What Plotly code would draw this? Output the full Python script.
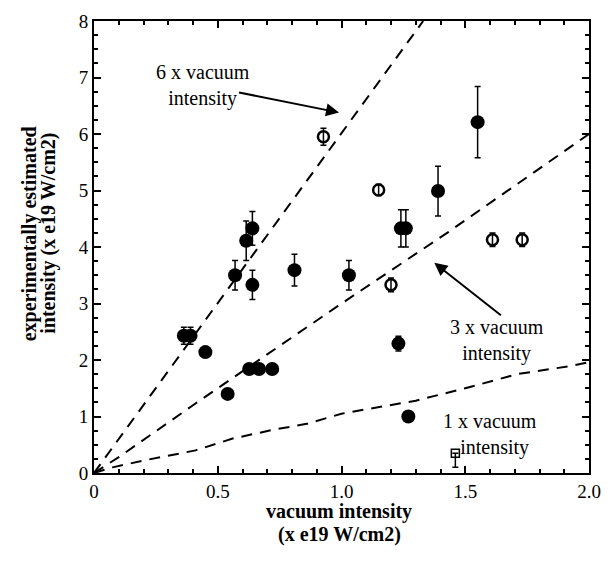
import plotly.graph_objects as go

# Filled circles (experimental data)
filled_x = [0.363, 0.39, 0.45, 0.54, 0.57, 0.615, 0.64, 0.64, 0.627, 0.667, 0.72, 0.81, 1.03, 1.23, 1.24, 1.26, 1.27, 1.39, 1.55]
filled_y = [2.43, 2.43, 2.14, 1.40, 3.50, 4.11, 4.33, 3.33, 1.84, 1.84, 1.84, 3.59, 3.50, 2.29, 4.33, 4.33, 1.00, 4.99, 6.21]
filled_err = [0.15, 0.15, 0.05, 0.0, 0.26, 0.35, 0.30, 0.26, 0.0, 0.0, 0.0, 0.28, 0.26, 0.13, 0.33, 0.33, 0.0, 0.44, 0.63]

# Open circles
open_x = [0.927, 1.15, 1.20, 1.61, 1.73]
open_y = [5.95, 5.01, 3.33, 4.13, 4.13]
open_err = [0.15, 0.10, 0.12, 0.12, 0.12]

# Open square
sq_x = [1.46]
sq_y = [0.35]
sq_err_minus = [0.25]

# Guide curves
line6_x = [0.0, 0.4, 0.8, 1.33]
line6_y = [0.0, 2.4, 4.8, 8.0]
line3_x = [0.0, 0.1, 0.41, 0.98, 1.43, 2.0]
line3_y = [0.0, 0.28, 1.23, 2.94, 4.26, 6.0]
line1_x = [0.0, 0.075, 0.21, 0.41, 0.56, 0.73, 0.86, 1.0, 1.3, 1.5, 1.71, 1.92, 2.0]
line1_y = [0.0, 0.10, 0.23, 0.40, 0.61, 0.77, 0.87, 1.05, 1.28, 1.50, 1.75, 1.89, 1.96]

x_ticks = [0, 0.5, 1.0, 1.5, 2.0]
x_tick_text = ["0", "0.5", "1.0", "1.5", "2.0"]
y_ticks = [0, 1, 2, 3, 4, 5, 6, 7, 8]

x_title_lines = ["vacuum intensity", "(x e19 W/cm2)"]
y_title_lines = ["experimentally estimated", "intensity (x e19 W/cm2)"]

serif = "Liberation Serif, Times New Roman, serif"

fig = go.Figure()
for lx, ly in [(line6_x, line6_y), (line3_x, line3_y), (line1_x, line1_y)]:
    fig.add_trace(go.Scatter(x=lx, y=ly, mode="lines",
                             line=dict(color="black", width=2, dash="11px,8px"),
                             hoverinfo="skip", showlegend=False))

fig.add_trace(go.Scatter(
    x=filled_x, y=filled_y, mode="markers",
    marker=dict(symbol="circle", size=14, color="black"),
    error_y=dict(type="data", array=filled_err, color="black", thickness=1.5, width=3),
    showlegend=False))

fig.add_trace(go.Scatter(
    x=open_x, y=open_y, mode="markers",
    marker=dict(symbol="circle-open", size=11, color="black", line=dict(width=2.5)),
    error_y=dict(type="data", array=open_err, color="black", thickness=1.5, width=3),
    showlegend=False))

fig.add_trace(go.Scatter(
    x=sq_x, y=sq_y, mode="markers",
    marker=dict(symbol="square-open", size=8, color="black", line=dict(width=1.5)),
    error_y=dict(type="data", symmetric=False, array=[0], arrayminus=sq_err_minus,
                 color="black", thickness=1.5, width=3),
    showlegend=False))

ann_font = dict(family=serif, size=20, color="black")
title_font = dict(family=serif, size=20, color="black")
annotations = [
    dict(x=0.44, y=6.85, text="6 x vacuum<br>intensity", showarrow=False, font=ann_font, align="center"),
    dict(x=1.63, y=2.35, text="3 x vacuum<br>intensity", showarrow=False, font=ann_font, align="center"),
    dict(x=1.6, y=0.68, text="1 x vacuum<br>  intensity", showarrow=False, font=ann_font, align="center"),
    dict(x=0.99, y=6.38, ax=0.58, ay=6.74, axref="x", ayref="y", text="", showarrow=True,
         arrowhead=2, arrowsize=1.3, arrowwidth=2, arrowcolor="black"),
    dict(x=1.375, y=3.72, ax=1.65, ay=2.77, axref="x", ayref="y", text="", showarrow=True,
         arrowhead=2, arrowsize=1.3, arrowwidth=2, arrowcolor="black"),
    # axis titles
    dict(xref="paper", yref="paper", x=0.495, y=-0.0853, text="<b>%s</b>" % x_title_lines[0],
         showarrow=False, font=title_font, xanchor="center", yanchor="middle"),
    dict(xref="paper", yref="paper", x=0.495, y=-0.1357, text="<b>%s</b>" % x_title_lines[1],
         showarrow=False, font=title_font, xanchor="center", yanchor="middle"),
    dict(xref="paper", yref="paper", x=-0.130, y=0.5295, text="<b>%s</b>" % y_title_lines[0],
         showarrow=False, font=title_font, textangle=-90, xanchor="center", yanchor="middle"),
    dict(xref="paper", yref="paper", x=-0.0907, y=0.5295, text="<b>%s</b>" % y_title_lines[1],
         showarrow=False, font=title_font, textangle=-90, xanchor="center", yanchor="middle"),
]

fig.update_layout(
    width=612, height=566,
    margin=dict(l=94, r=11, t=16, b=93),
    plot_bgcolor="white", paper_bgcolor="white",
    font=dict(family=serif, color="black"),
    annotations=annotations,
    xaxis=dict(range=[0, 2.0], tickvals=x_ticks, ticktext=x_tick_text,
               ticks="inside", ticklen=7, tickwidth=1.5, tickcolor="black",
               minor=dict(ticks="inside", ticklen=4, dtick=0.1, tickcolor="black"),
               showline=True, linewidth=2, linecolor="black", mirror="ticks",
               showgrid=False, zeroline=False,
               tickfont=dict(family=serif, size=19)),
    yaxis=dict(range=[0, 8], tickvals=y_ticks,
               ticks="inside", ticklen=7, tickwidth=1.5, tickcolor="black",
               minor=dict(ticks="inside", ticklen=4, dtick=0.25, tickcolor="black"),
               showline=True, linewidth=2, linecolor="black", mirror="ticks",
               showgrid=False, zeroline=False,
               tickfont=dict(family=serif, size=19)),
)

fig.write_html("out.html")
